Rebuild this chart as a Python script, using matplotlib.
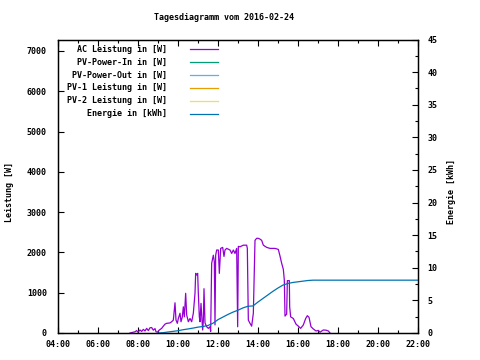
import matplotlib
matplotlib.use("Agg")
import matplotlib.pyplot as plt
from matplotlib.lines import Line2D
from matplotlib.ticker import FixedLocator, FuncFormatter, MultipleLocator

# AC power (time, watts)
ac_times = [
    "07:36", "07:51", "07:56", "08:00", "08:06", "08:11", "08:16", "08:21",
    "08:26", "08:31", "08:36", "08:41", "08:46", "08:51", "08:54", "08:58",
    "09:04", "09:11", "09:16", "09:21", "09:26", "09:36", "09:41", "09:46",
    "09:51", "09:54", "09:58", "10:01", "10:06", "10:09", "10:13", "10:16",
    "10:19", "10:23", "10:26", "10:31", "10:36", "10:41", "10:46", "10:51",
    "10:53", "10:56", "10:59", "11:01", "11:04", "11:06", "11:09", "11:11",
    "11:14", "11:16", "11:18", "11:21", "11:26", "11:31", "11:36", "11:38",
    "11:41", "11:46", "11:49", "11:51", "11:53", "11:56", "12:01", "12:04",
    "12:08", "12:14", "12:18", "12:21", "12:26", "12:36", "12:41", "12:46",
    "12:51", "12:56", "12:59", "13:01", "13:06", "13:16", "13:26", "13:28",
    "13:31", "13:36", "13:41", "13:46", "13:51", "13:56", "14:01", "14:06",
    "14:11", "14:16", "14:26", "14:36", "14:51", "15:01", "15:06", "15:11",
    "15:16", "15:19", "15:21", "15:26", "15:28", "15:34", "15:35", "15:38",
    "15:46", "15:54", "16:01", "16:08", "16:16", "16:23", "16:28", "16:33",
    "16:39", "16:46", "16:54", "17:01", "17:06", "17:16", "17:24", "17:31",
    "17:36",
]
ac_watts = [
    0, 30, 60, 20, 75, 40, 90, 50,
    115, 60, 130, 135, 70, 110, 30, 20,
    75, 115, 170, 220, 240, 250, 280, 320,
    750, 320, 240, 360, 490, 280, 400, 650,
    400, 985, 450, 280, 360, 280, 490, 985,
    1480, 1440, 1480, 985, 400, 280, 735, 450,
    75, 300, 1100, 250, 155, 115, 155, 40,
    1730, 1930, 1770, 200, 1930, 2060, 2060, 1480,
    2100, 2125, 1900, 2060, 2100, 2060, 1975, 2060,
    1975, 2100, 155, 2150, 2140, 2180, 2180, 2100,
    320, 240, 170, 490, 2300, 2350, 2350, 2330,
    2300, 2180, 2125, 2100, 2100, 2075, 1910, 1730,
    1580, 1310, 420, 470, 1300, 1300, 650, 400,
    360, 220, 170, 115, 200, 360, 430, 390,
    155, 100, 50, 65, 20, 75, 70, 50,
    0,
]

# cumulative energy (time, kWh)
en_times = [
    "09:00", "09:15", "09:30", "09:45", "10:00", "10:15", "10:30", "10:45",
    "11:00", "11:15", "11:30", "11:45", "12:00", "12:15", "12:30", "12:45",
    "13:00", "13:15", "13:30", "13:45", "14:00", "14:15", "14:30", "14:45",
    "15:00", "15:15", "15:30", "15:45", "16:00", "16:15", "16:30", "16:45",
    "22:00",
]
en_kwh = [
    0.0, 0.05, 0.15, 0.25, 0.35, 0.5, 0.62, 0.75,
    0.9, 1.0, 1.15, 1.5, 2.05, 2.45, 2.85, 3.2,
    3.5, 3.85, 4.1, 4.15, 4.75, 5.3, 5.85, 6.4,
    6.9, 7.35, 7.6, 7.75, 7.85, 7.95, 8.05, 8.1,
    8.1,
]

labels = ["AC Leistung in [W]", "PV-Power-In in [W]", "PV-Power-Out in [W]",
          "PV-1 Leistung in [W]", "PV-2 Leistung in [W]", "Energie in [kWh]"]
colors = ["#9400d3", "#009e73", "#56b4e9", "#e69f00", "#f0e442", "#0072b2"]

FONT = "DejaVu Sans Mono"
FS = 6
WEIGHT = "bold"


def hours(t):
    h, m = t.split(":")
    return int(h) + int(m) / 60


W, H = 480, 360
fig = plt.figure(figsize=(4.8, 3.6), dpi=100)
plt.rcParams["font.family"] = FONT
plt.rcParams["font.size"] = FS

ax = fig.add_axes([58 / W, (H - 333) / H, 360 / W, (333 - 39.5) / H])
ax2 = ax.twinx()

ax.plot([hours(t) for t in ac_times], ac_watts, color=colors[0], lw=0.9)
ax2.plot([hours(t) for t in en_times], en_kwh, color=colors[5], lw=0.9)

ax.set_xlim(4, 22)
ax.set_ylim(0, 7285)
ax2.set_ylim(0, 45)

ax.xaxis.set_major_locator(MultipleLocator(2))
ax.xaxis.set_minor_locator(MultipleLocator(1))
ax.xaxis.set_major_formatter(FuncFormatter(lambda v, p: "%02d:00" % int(v)))
ax.yaxis.set_major_locator(FixedLocator(range(0, 7001, 1000)))
ax2.yaxis.set_major_locator(MultipleLocator(5))
ax2.yaxis.set_minor_locator(MultipleLocator(2.5))

ax.tick_params(axis="x", which="both", direction="in", top=True, pad=5)
ax.tick_params(axis="x", which="major", length=4, width=0.8)
ax.tick_params(axis="x", which="minor", length=2, width=0.8)
ax.tick_params(axis="y", which="both", direction="in", right=False,
               length=4, width=0.8, pad=8)
ax2.tick_params(axis="y", which="major", direction="in", length=4,
                width=0.8, pad=7)
ax2.tick_params(axis="y", which="minor", direction="in", length=2, width=0.8)
for a in (ax, ax2):
    for lbl in a.get_xticklabels() + a.get_yticklabels():
        lbl.set_fontfamily(FONT)
        lbl.set_fontsize(FS)
        lbl.set_fontweight(WEIGHT)
    for s in a.spines.values():
        s.set_linewidth(0.9)

fig.text(224 / W, 1 - 18 / H, "Tagesdiagramm vom 2016-02-24",
         ha="center", va="center", fontsize=FS, family=FONT, weight=WEIGHT)
fig.text(10 / W, 1 - 192 / H, "Leistung [W]", rotation=90,
         ha="center", va="center", fontsize=FS, family=FONT, weight=WEIGHT)
fig.text(452 / W, 1 - 192 / H, "Energie [kWh]", rotation=90,
         ha="center", va="center", fontsize=FS, family=FONT, weight=WEIGHT)

# key, gnuplot style: right-aligned text, sample line to the right
row_y = [49.3, 62, 75.3, 88, 100.7, 114]
for lab, col, y in zip(labels, colors, row_y):
    fig.text(167 / W, 1 - y / H, lab, ha="right", va="center",
             fontsize=FS, family=FONT, weight=WEIGHT)
    fig.add_artist(Line2D([190 / W, 218 / W], [1 - y / H, 1 - y / H],
                          transform=fig.transFigure, color=col, lw=0.9))

fig.savefig("out.png", dpi=100)
